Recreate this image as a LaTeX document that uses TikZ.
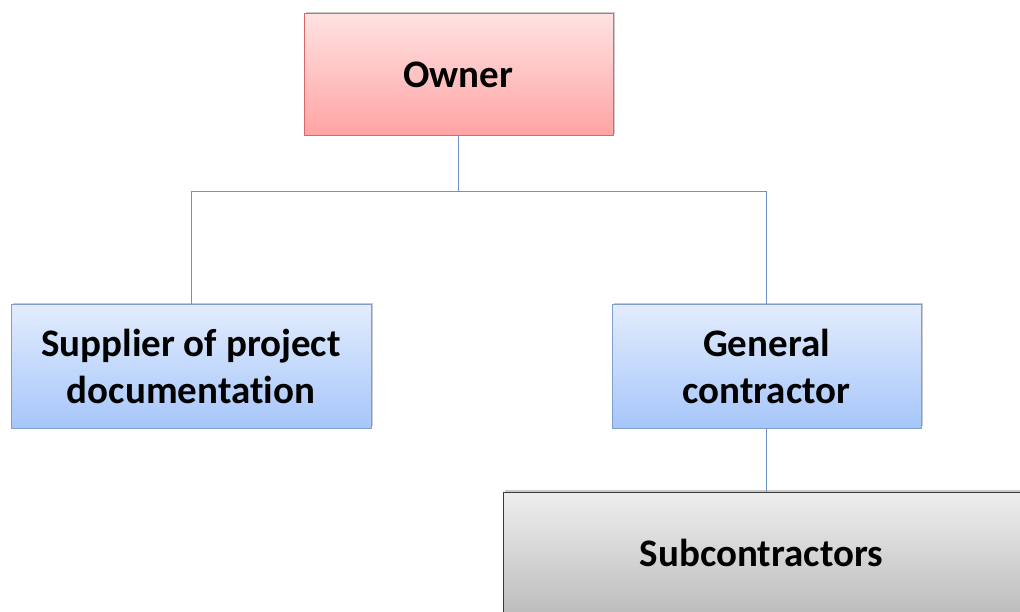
\documentclass[tikz,border=0pt]{standalone}
\usepackage{fontspec}
\setmainfont{Carlito}[Ligatures=NoCommon]
\usetikzlibrary{shadows}
\definecolor{ownertop}{HTML}{FFE2E2}
\definecolor{ownerbot}{HTML}{FFA3A3}
\definecolor{ownerline}{HTML}{D9686A}
\definecolor{bluetop}{HTML}{E2ECFD}
\definecolor{bluebot}{HTML}{A6C6FA}
\definecolor{blueline}{HTML}{7F9FCF}
\definecolor{graytop}{HTML}{EEEEEE}
\definecolor{graybot}{HTML}{BDBDBD}
\definecolor{grayline}{HTML}{3A3A3A}
\definecolor{linkline}{HTML}{6E93C8}
\tikzset{
  orgbox/.style={rectangle, line width=1pt, align=center, inner sep=0pt,
    font=\fontsize{39}{47}\selectfont\bfseries,
    drop shadow={shadow xshift=2pt, shadow yshift=2pt, opacity=0.35, fill=black!60}},
  ownerbox/.style={orgbox, draw=ownerline, top color=ownertop, bottom color=ownerbot},
  bluebox/.style={orgbox, draw=blueline, top color=bluetop, bottom color=bluebot},
  graybox/.style={orgbox, draw=grayline, top color=graytop, bottom color=graybot},
  link/.style={draw=linkline, line width=1pt}
}
\begin{document}
\begin{tikzpicture}[x=1pt,y=-1pt]
  \useasboundingbox (0,0) rectangle (1020,612);
  \clip (0,0) rectangle (1020,612);
  \node[ownerbox, minimum width=309pt, minimum height=122pt] (owner) at (458.5,75) {Owner};
  \node[bluebox, minimum width=360pt, minimum height=123pt] (sup) at (191,366.5) {Supplier of project\\documentation};
  \node[bluebox, minimum width=309pt, minimum height=123pt] (gc) at (766.5,366.5) {General\\contractor};
  \node[graybox, minimum width=517pt, minimum height=122pt] (sub) at (761.5,553) {Subcontractors};
  \coordinate (bus) at (458.5,192);
  \draw[link] (owner.south) -- (bus) -| (sup.north);
  \draw[link] (bus) -| (gc.north);
  \draw[link] (gc.south) -- (gc.south |- sub.north);
\end{tikzpicture}
\end{document}
